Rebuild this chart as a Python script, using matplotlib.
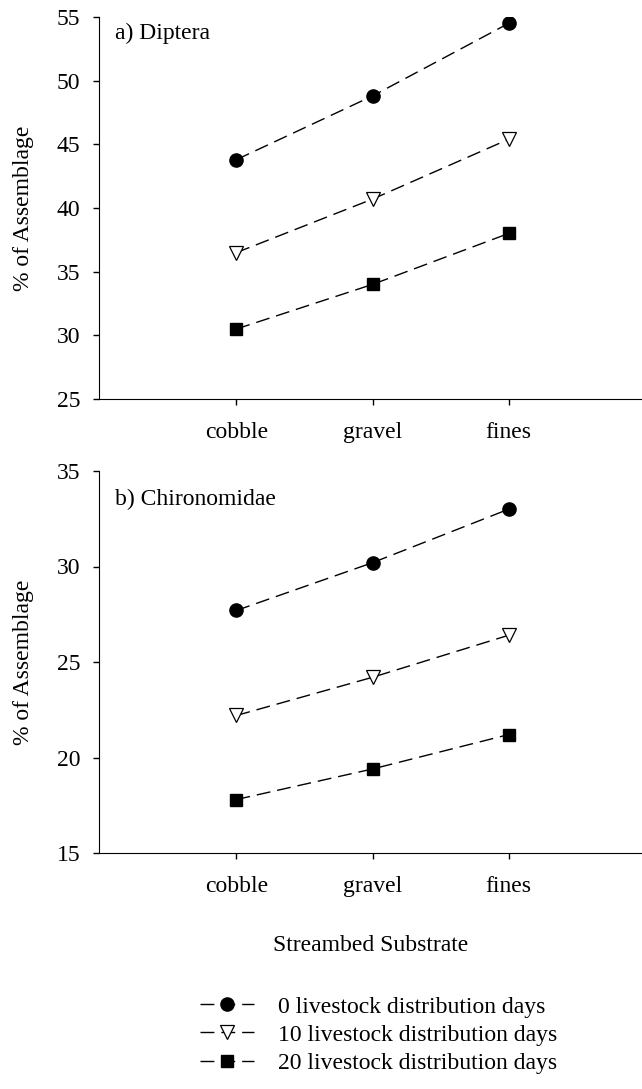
import numpy as np
import matplotlib
matplotlib.use("Agg")
import matplotlib.pyplot as plt

plt.rcParams['font.family'] = ['Liberation Serif', 'DejaVu Serif']

substrates = ["cobble", "gravel", "fines"]
series_labels = ["0 livestock distribution days",
                 "10 livestock distribution days",
                 "20 livestock distribution days"]

diptera_0 = [43.8, 48.8, 54.5]
diptera_10 = [36.5, 40.7, 45.4]
diptera_20 = [30.5, 34.0, 38.0]

chiro_0 = [27.7, 30.2, 33.0]
chiro_10 = [22.2, 24.2, 26.4]
chiro_20 = [17.8, 19.4, 21.2]

styles = [dict(marker='o', mfc='black', mec='black', ms=9.5),
          dict(marker='v', mfc='white', mec='black', ms=9.5, mew=0.9),
          dict(marker='s', mfc='black', mec='black', ms=8)]

fig = plt.figure(figsize=(6.42, 10.89), dpi=100)
W, H = 642, 1089
FS = 17


def add_ax(top, bottom):
    return fig.add_axes([99 / W, 1 - bottom / H, (642 - 99) / W, (bottom - top) / H])


ax1 = add_ax(17, 399)
ax2 = add_ax(471, 853)

x = np.arange(1, 4)
panels = [(ax1, [diptera_0, diptera_10, diptera_20], (25, 55), "a) Diptera", 0.958),
          (ax2, [chiro_0, chiro_10, chiro_20], (15, 35), "b) Chironomidae", 0.925)]

handles = []
for ax, data, ylim, title, ty in panels:
    handles = []
    for vals, st, lab in zip(data, styles, series_labels):
        h, = ax.plot(x, vals, color='black', lw=1.0, ls=(0, (10, 5)), label=lab, **st)
        handles.append(h)
    ax.set_xlim(-0.01, 3.98)
    ax.set_ylim(*ylim)
    ax.set_yticks(np.arange(ylim[0], ylim[1] + 1, 5))
    ax.set_xticks(x)
    ax.set_xticklabels(substrates)
    ax.spines['top'].set_visible(False)
    ax.spines['right'].set_visible(False)
    ax.tick_params(axis='y', direction='out', length=4.5, width=1, labelsize=FS, pad=9)
    ax.tick_params(axis='x', direction='out', length=4.5, width=1, labelsize=FS, pad=12)
    ax.set_ylabel("% of Assemblage", fontsize=FS)
    ax.yaxis.set_label_coords(-0.12, 0.5)
    ax.text(0.03, ty, title, fontsize=FS, va='center', transform=ax.transAxes)

ax2.set_xlabel("Streambed Substrate", fontsize=FS, va='top')
ax2.xaxis.set_label_coords(0.5, -0.215)

fig.legend(handles=handles, loc='upper left', bbox_to_anchor=(200 / W, 1 - 996 / H),
           frameon=False, fontsize=FS, handlelength=2.3, handletextpad=1.0,
           labelspacing=0.28, borderaxespad=0, borderpad=0)

fig.savefig("out.png", dpi=100)
